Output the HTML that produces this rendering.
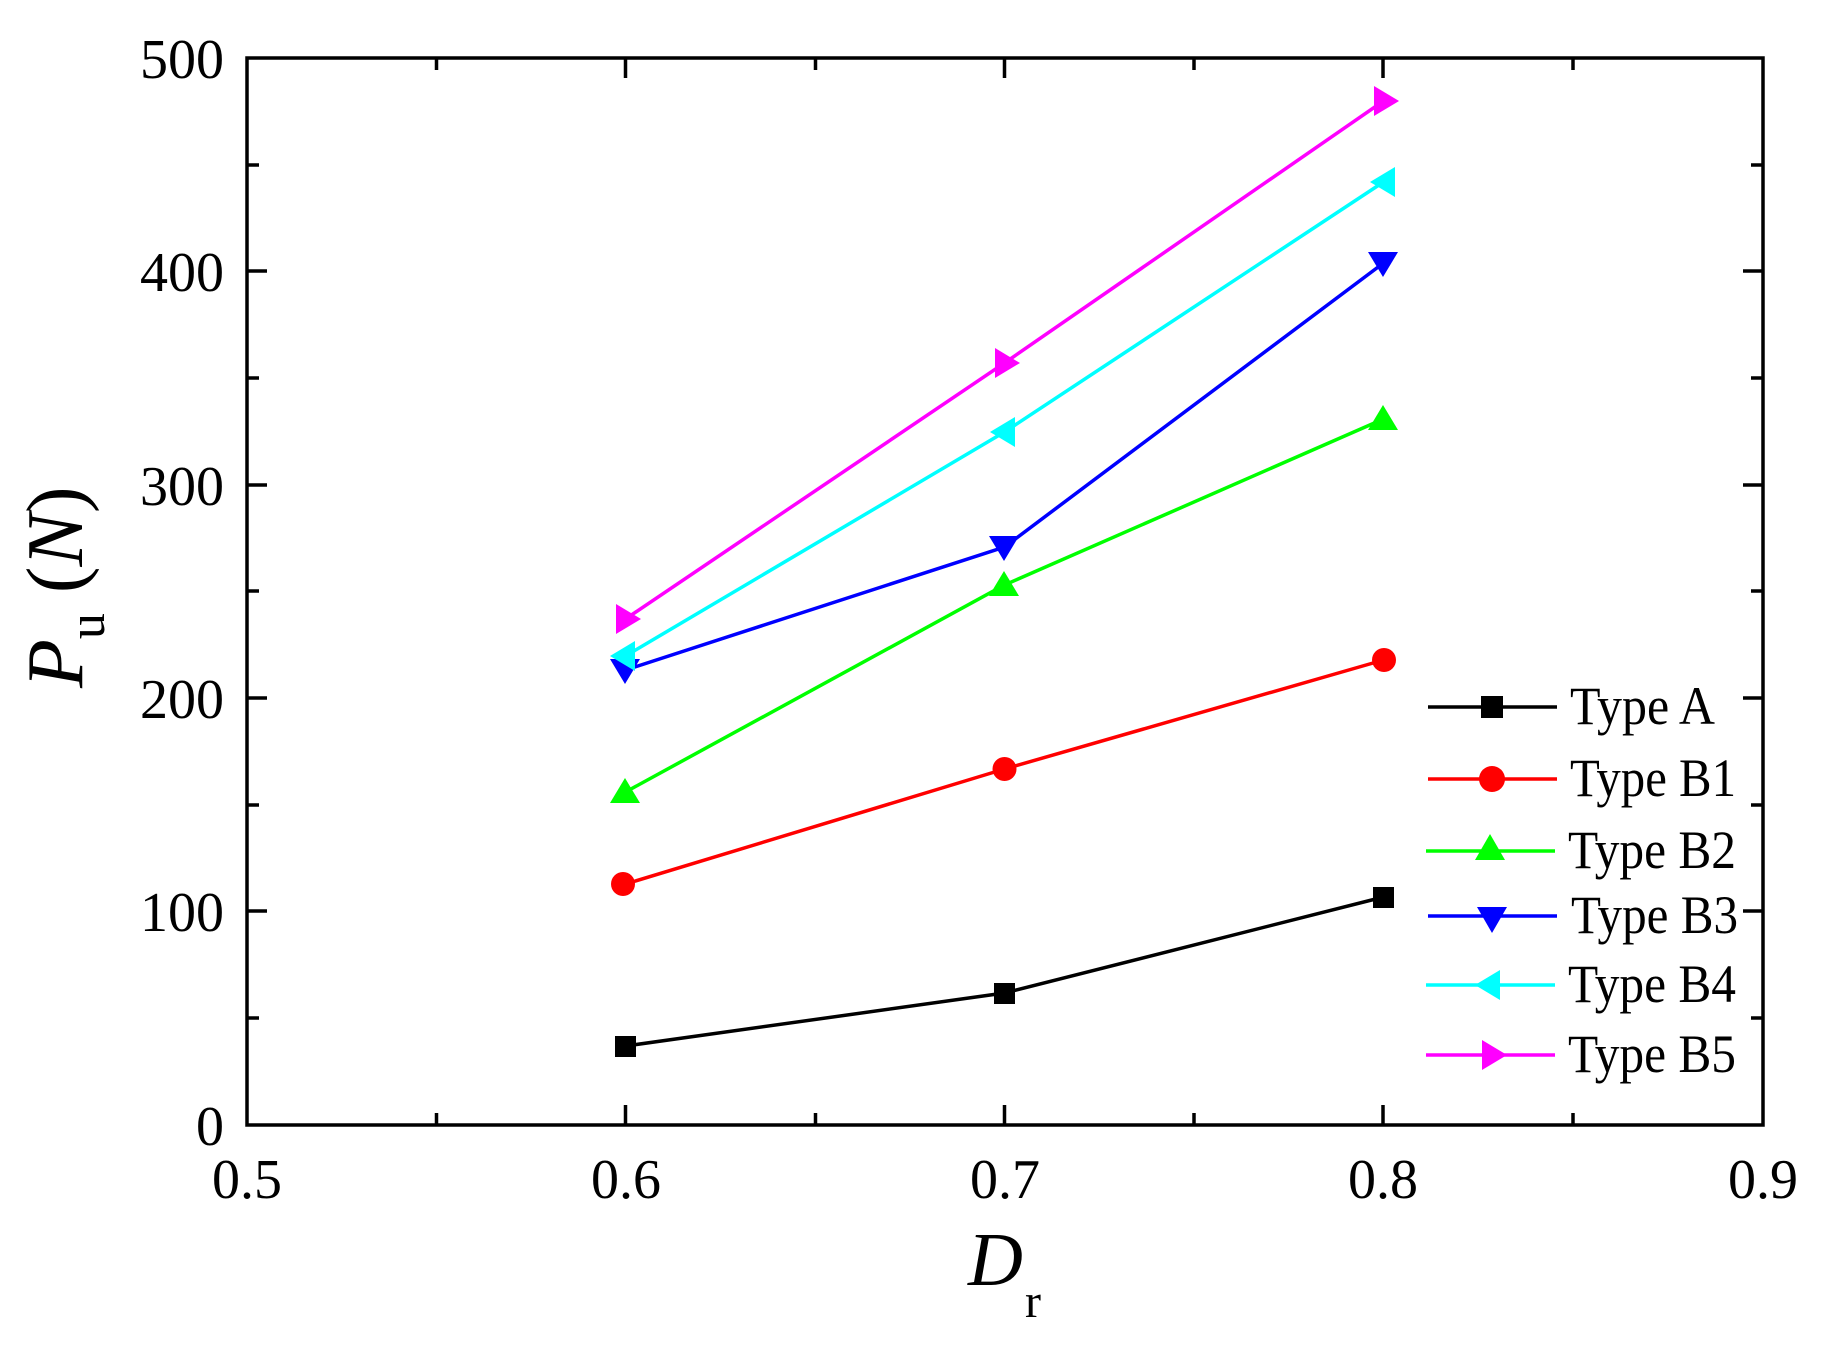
<!DOCTYPE html>
<html><head><style>body{margin:0;background:#fff}svg{display:block}</style></head><body>
<svg width="1823" height="1345" xmlns="http://www.w3.org/2000/svg" font-family="Liberation Serif, serif">
<rect width="1823" height="1345" fill="#fff"/>
<g stroke="#000" stroke-width="3.5" fill="none">
<rect x="247" y="58" width="1516" height="1067"/>
<path d="M436.5 1125v-12M625.5 1125v-20M815.5 1125v-12M1004.5 1125v-20M1194 1125v-12M1383 1125v-20M1573 1125v-12
M436.5 58v12M625.5 58v20M815.5 58v12M1004.5 58v20M1194 58v12M1383 58v20M1573 58v12
M247 1018h12M247 911h20M247 805h12M247 698h20M247 591h12M247 485h20M247 378h12M247 271h20M247 165h12
M1763 1018h-12M1763 911h-20M1763 805h-12M1763 698h-20M1763 591h-12M1763 485h-20M1763 378h-12M1763 271h-20M1763 165h-12"/>
</g>
<g font-size="56" text-anchor="end">
<text x="224" y="1145">0</text><text x="224" y="931">100</text><text x="224" y="718">200</text><text x="224" y="505">300</text><text x="224" y="291">400</text><text x="224" y="78">500</text>
</g>
<g font-size="56" text-anchor="middle">
<text x="247" y="1198">0.5</text><text x="626" y="1198">0.6</text><text x="1005" y="1198">0.7</text><text x="1383" y="1198">0.8</text><text x="1763" y="1198">0.9</text>
</g>
<text x="968" y="1285" font-size="76" font-style="italic">D</text>
<text x="1025" y="1317" font-size="48">r</text>
<text transform="translate(82,688) rotate(-90)" font-size="80"><tspan font-style="italic">P</tspan><tspan font-size="52" dy="22">u</tspan><tspan dy="-22"> (</tspan><tspan font-style="italic">N</tspan><tspan>)</tspan></text>
<g stroke-width="3.5" fill="none">
<polyline stroke="#000" points="625.5,1046 1004.5,993 1383.5,897"/>
<polyline stroke="#f00" points="625.5,884 1004.5,769 1383.5,660"/>
<polyline stroke="#0f0" points="625.5,792 1004.5,585 1383.5,419"/>
<polyline stroke="#00f" points="625.5,670 1004.5,547 1383.5,263"/>
<polyline stroke="#0ff" points="625.5,656 1004.5,432 1383.5,182"/>
<polyline stroke="#f0f" points="625.5,619 1004.5,363 1383.5,101"/>
</g>
<g fill="#000"><rect x="615" y="1036" width="21" height="21"/><rect x="994" y="983" width="21" height="21"/><rect x="1373" y="887" width="21" height="21"/></g>
<g fill="#f00"><circle cx="623" cy="884" r="12"/><circle cx="1004.5" cy="769" r="12"/><circle cx="1384" cy="660" r="12"/></g>
<g fill="#0f0"><path d="M625 778l15 25h-30z"/><path d="M1004 571l15 25h-30z"/><path d="M1383 405l15 25h-30z"/></g>
<g fill="#00f"><path d="M625 684l15-25h-30z"/><path d="M1004 561l15-25h-30z"/><path d="M1383 277l15-25h-30z"/></g>
<g fill="#0ff"><path d="M610 656l25-15v30z"/><path d="M990 432l25-15v30z"/><path d="M1370 182l25-15v30z"/></g>
<g fill="#f0f"><path d="M641 619l-25-15v30z"/><path d="M1020 363l-25-15v30z"/><path d="M1399 101l-25-15v30z"/></g>
<g stroke-width="3.5">
<line x1="1428" y1="707" x2="1557" y2="707" stroke="#000"/>
<line x1="1428" y1="779" x2="1557" y2="779" stroke="#f00"/>
<line x1="1426" y1="851" x2="1555" y2="851" stroke="#0f0"/>
<line x1="1428" y1="916" x2="1557" y2="916" stroke="#00f"/>
<line x1="1426" y1="985" x2="1555" y2="985" stroke="#0ff"/>
<line x1="1426" y1="1055" x2="1555" y2="1055" stroke="#f0f"/>
</g>
<rect x="1481" y="696" width="22" height="22" fill="#000"/>
<circle cx="1492" cy="779" r="13" fill="#f00"/>
<path d="M1490 834l15 26h-30z" fill="#0f0"/>
<path d="M1492 933l15-26h-30z" fill="#00f"/>
<path d="M1475 985l25-15v30z" fill="#0ff"/>
<path d="M1507 1055l-25-15v30z" fill="#f0f"/>
<g font-size="54">
<text x="1570" y="724" textLength="145" lengthAdjust="spacingAndGlyphs">Type A</text>
<text x="1570" y="796" textLength="166" lengthAdjust="spacingAndGlyphs">Type B1</text>
<text x="1568" y="868" textLength="168" lengthAdjust="spacingAndGlyphs">Type B2</text>
<text x="1571" y="933" textLength="167" lengthAdjust="spacingAndGlyphs">Type B3</text>
<text x="1568" y="1002" textLength="168" lengthAdjust="spacingAndGlyphs">Type B4</text>
<text x="1568" y="1072" textLength="168" lengthAdjust="spacingAndGlyphs">Type B5</text>
</g>
</svg>
</body></html>
